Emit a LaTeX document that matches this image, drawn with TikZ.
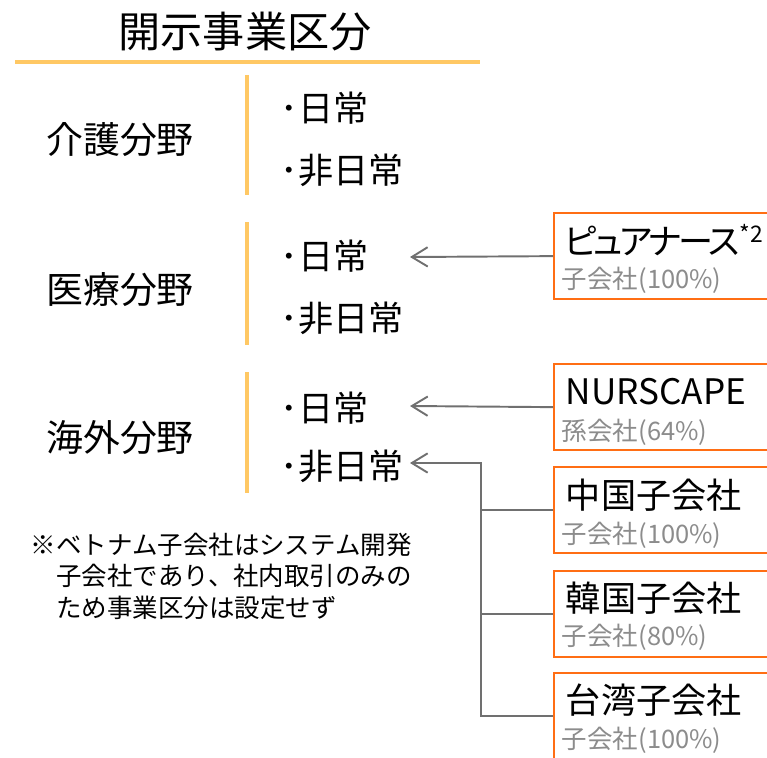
\documentclass[tikz,border=0pt]{standalone}
\usepackage{fontspec}
\setmainfont{Noto Sans CJK JP}
\usetikzlibrary{positioning,arrows.meta}
\definecolor{barYellow}{RGB}{255,200,100}
\definecolor{boxOrange}{RGB}{255,110,20}
\definecolor{lineGray}{RGB}{112,112,112}
\definecolor{subGray}{RGB}{140,140,140}

\begin{document}
\begin{tikzpicture}[
    x=0.02cm, y=-0.02cm,
    >={Straight Barb[length=9pt,width=11pt]},
    line width=1.1pt
]

\tikzstyle{bar}=[draw=barYellow, line width=2.8pt]
\tikzstyle{field}=[inner sep=0pt, font=\fontsize{21}{25}\selectfont]
\tikzstyle{item}=[inner sep=0pt, anchor=west, font=\fontsize{20}{24}\selectfont]
\tikzstyle{corp}=[
    draw=boxOrange,
    line width=1.3pt,
    anchor=north west,
    minimum width=5cm,
    minimum height=1.72cm
]
\tikzstyle{corpname}=[inner sep=0pt, anchor=west, font=\fontsize{20}{24}\selectfont]
\tikzstyle{share}=[inner sep=0pt, anchor=west, text=subGray, font=\fontsize{14.5}{17}\selectfont]
\tikzstyle{link}=[draw=lineGray]

\useasboundingbox (0,0) rectangle (767,757);
\clip (0,0) rectangle (767,757);

% title
\node[inner sep=0pt, font=\fontsize{24}{28}\selectfont] (title) at (245,32) {開示事業区分};
\draw[bar] (15,62) -- (480,62);

% fields
\node[field] (kaigo) at (120,140) {介護分野};
\node[field] (iryo) at (120,290) {医療分野};
\node[field] (kaigai) at (120,438) {海外分野};

\draw[bar] (247,75) -- (247,195);
\draw[bar] (247,222) -- (247,345);
\draw[bar] (247,372) -- (247,493);

\node[item] (kaigo1) at (280,108) {･日常};
\node[item] (kaigo2) at (280,170) {･非日常};
\node[item] (iryo1) at (280,256) {･日常};
\node[item] (iryo2) at (280,318) {･非日常};
\node[item] (kaigai1) at (280,408) {･日常};
\node[item] (kaigai2) at (280,466) {･非日常};

% note
\node[inner sep=0pt, anchor=north west, align=left, font=\fontsize{14.5}{18}\selectfont] (note) at (30,532)
    {※ベトナム子会社はシステム開発\\
     \phantom{※}子会社であり、社内取引のみの\\
     \phantom{※}ため事業区分は設定せず};

% companies
\node[corp] (pure) at (553,212) {};
\node[corpname] (pureN) at (563,240)
    {{\addfontfeature{RawFeature=+palt,LetterSpace=-9}ピュアナース}\raisebox{7pt}{\fontsize{13}{15}\selectfont *2}};
\node[share] (pureS) at (561,280) {子会社(100\%)};

\node[corp] (nurs) at (553,363) {};
\node[corpname] (nursN) at (565,392) {NURSCAPE};
\node[share] (nursS) at (561,432) {孫会社(64\%)};

\node[corp] (china) at (553,466) {};
\node[corpname] (chinaN) at (565,495) {中国子会社};
\node[share] (chinaS) at (561,535) {子会社(100\%)};

\node[corp] (korea) at (553,570) {};
\node[corpname] (koreaN) at (565,598) {韓国子会社};
\node[share] (koreaS) at (561,637) {子会社(80\%)};

\node[corp] (taiwan) at (553,672) {};
\node[corpname] (taiwanN) at (565,700) {台湾子会社};
\node[share] (taiwanS) at (561,740) {子会社(100\%)};

% links
\coordinate (tipA) at (410,257);
\coordinate (tipB) at (410,406);
\coordinate (tipC) at (410,463);
\coordinate (fork) at (481,463);

\draw[link,->] (pure.west) -- (tipA);
\draw[link,->] (nurs.west) -- (tipB);
\draw[link,->] (taiwan.west) -| (fork) -- (tipC);
\draw[link] (china.west) -- (china.west -| fork);
\draw[link] (korea.west) -- (korea.west -| fork);

\end{tikzpicture}
\end{document}
